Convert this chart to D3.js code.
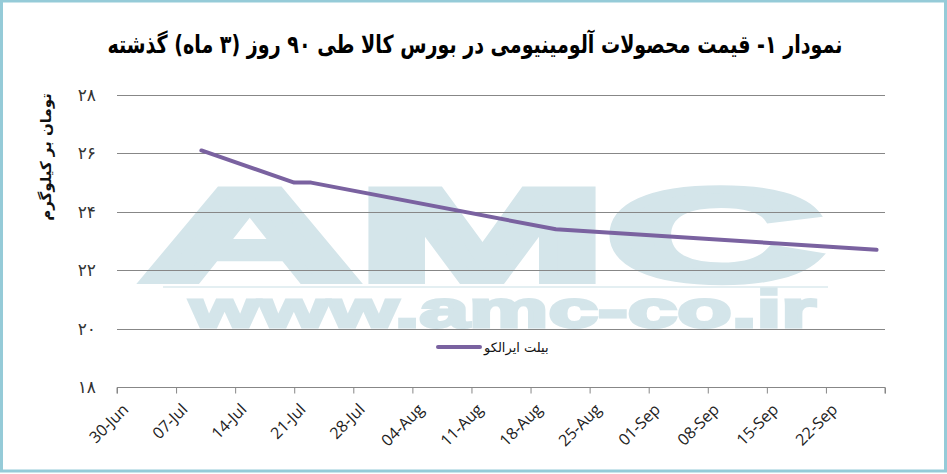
<!DOCTYPE html>
<html><head><meta charset="utf-8">
<script src="https://cdn.jsdelivr.net/npm/d3@7"></script>
<style>html,body{margin:0;padding:0;background:#fff;}svg{display:block;}</style>
</head><body>
<script>
// ---- data ----
const title = "نمودار ۱- قیمت محصولات آلومینیومی در بورس کالا طی ۹۰ روز (۳ ماه) گذشته";
const yTitle = "تومان بر کیلوگرم";
const seriesName = "بیلت ایرالکو";
const dates = ["2024-07-10", "2024-07-21", "2024-07-23", "2024-08-21", "2024-09-28"];
const values = [26.1, 25.0, 25.0, 23.4, 22.7];
const xTickLabels = ["30-Jun","07-Jul","14-Jul","21-Jul","28-Jul","04-Aug","11-Aug","18-Aug","25-Aug","01-Sep","08-Sep","15-Sep","22-Sep",""];
const yTicks = [18, 20, 22, 24, 26, 28];
const yTickLabels = ["۱۸","۲۰","۲۲","۲۴","۲۶","۲۸"];

const W = 947, H = 474;
const parse = d3.timeParse("%Y-%m-%d");
const x0 = parse("2024-06-30"), x1 = parse("2024-09-29");
const svg = d3.select("body").append("svg").attr("width", W).attr("height", H);

// frame
svg.append("rect").attr("x", 1.5).attr("y", 1).attr("width", W - 3).attr("height", H - 4)
  .attr("fill", "#fff").attr("stroke", "#95cbd8").attr("stroke-width", 3);

const x = d3.scaleTime().domain([x0, x1]).range([117, 885]);
const y = d3.scaleLinear().domain([18, 28]).range([387, 95]);

// watermark
const wm = svg.append("g").attr("fill", "#d4e5ea").attr("stroke", "#d4e5ea");
wm.append("text").text("AMC").attr("x", 142).attr("y", 280)
  .attr("font-family", "Liberation Sans").attr("font-weight", "bold").attr("font-size", 130)
  .attr("stroke-width", 8).attr("stroke-linejoin", "miter")
  .attr("textLength", 680).attr("lengthAdjust", "spacingAndGlyphs");
wm.append("line").attr("x1", 163).attr("x2", 828).attr("y1", 287).attr("y2", 287)
  .attr("stroke", "#e4eff2").attr("stroke-width", 2);
wm.append("text").text("www.amc-co.ir").attr("x", 190).attr("y", 327)
  .attr("font-family", "Liberation Sans").attr("font-weight", "bold").attr("font-size", 52)
  .attr("stroke-width", 3)
  .attr("textLength", 626).attr("lengthAdjust", "spacingAndGlyphs");

// grid
const tickDates = xTickLabels.map((_, i) => d3.timeDay.offset(x0, i * 7));
svg.append("g").selectAll("line").data(yTicks.filter(v => v !== 18)).join("line")
  .attr("x1", 117).attr("x2", 885).attr("y1", d => Math.round(y(d)) + 0.5).attr("y2", d => Math.round(y(d)) + 0.5)
  .attr("stroke", "#878787").attr("stroke-width", 1);

// x axis
const xAxis = d3.axisBottom(x).tickValues(tickDates).tickSize(6)
  .tickFormat((d, i) => xTickLabels[i]);
const gx = svg.append("g").attr("transform", `translate(0,${Math.round(y(18)) + 0.5})`).call(xAxis);
gx.select(".domain").attr("stroke", "#878787").attr("d", `M117,6V0H885V6`);
gx.selectAll(".tick line").attr("stroke", "#878787");
gx.selectAll(".tick text")
  .attr("font-family", "Open Sans, sans-serif").attr("font-size", 16).attr("fill", "#222")
  .attr("text-anchor", "end").attr("dy", 0).attr("y", 0)
  .attr("transform", "translate(12,23) rotate(-45)");

// y labels
svg.append("g").selectAll("text").data(yTicks).join("text")
  .attr("x", 96).attr("y", d => y(d)).attr("dy", "0.35em").attr("text-anchor", "end")
  .attr("font-family", "DejaVu Sans").attr("font-size", 17).attr("fill", "#333")
  .text((d, i) => yTickLabels[i]);

// y title
svg.append("text").attr("transform", "translate(51,157) rotate(-90)")
  .attr("text-anchor", "middle").attr("font-family", "DejaVu Sans").attr("font-weight", "bold")
  .attr("font-size", 15).attr("fill", "#111").text(yTitle);

// title
svg.append("text").attr("x", 475).attr("y", 53).attr("text-anchor", "middle")
  .attr("font-family", "DejaVu Sans").attr("font-weight", "bold").attr("font-size", 25)
  .attr("fill", "#000").attr("textLength", 735).attr("lengthAdjust", "spacingAndGlyphs")
  .text(title);

// line
const data = dates.map((d, i) => ({ date: parse(d), value: values[i] }));
svg.append("path").datum(data)
  .attr("fill", "none").attr("stroke", "#7a62a0").attr("stroke-width", 4)
  .attr("stroke-linejoin", "round").attr("stroke-linecap", "round")
  .attr("d", d3.line().x(d => x(d.date)).y(d => y(d.value)));

// legend
svg.append("line").attr("x1", 438).attr("x2", 480).attr("y1", 347).attr("y2", 347)
  .attr("stroke", "#7a62a0").attr("stroke-width", 4).attr("stroke-linecap", "round");
svg.append("text").attr("x", 484).attr("y", 347).attr("dy", "0.35em")
  .attr("font-family", "DejaVu Sans").attr("font-size", 13).attr("fill", "#111")
  .text(seriesName);
</script>
</body></html>
